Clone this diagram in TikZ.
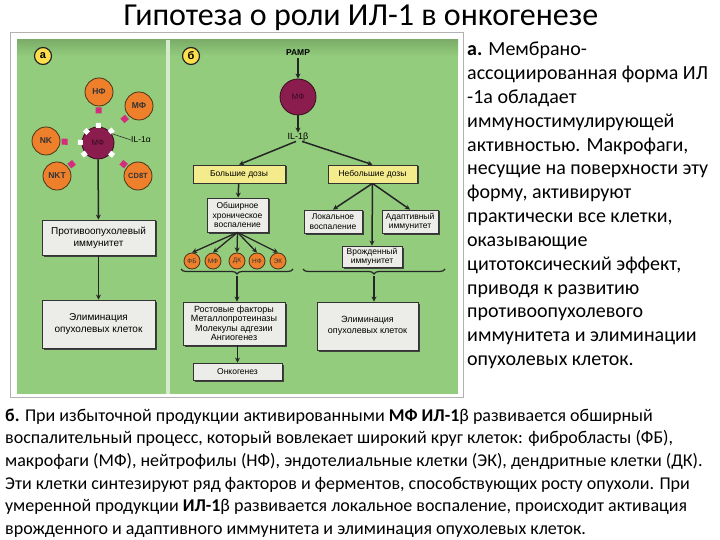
\documentclass[tikz,border=0pt]{standalone}
\usepackage{fontspec}
\setmainfont{Carlito}
\newfontfamily\figfont{Liberation Sans}
\usetikzlibrary{arrows.meta, positioning, decorations.pathreplacing, shadows}

\definecolor{panelgreen}{RGB}{146,204,124}
\definecolor{cellorange}{RGB}{238,128,44}
\definecolor{macro}{RGB}{138,28,78}
\definecolor{linkpink}{RGB}{214,44,124}
\definecolor{boxgray}{RGB}{236,236,232}
\definecolor{doseyellow}{RGB}{244,236,140}

\tikzset{
  plainbox/.style={draw=black!80, fill=boxgray, line width=0.8pt, align=center, inner sep=1pt,
    drop shadow={shadow xshift=1.5pt, shadow yshift=-1.5pt, fill=black!75, opacity=1},
    font=\figfont\fontsize{8.5}{9.5}\selectfont},
  dosebox/.style={plainbox, fill=doseyellow},
  cell/.style={circle, draw=black!60!brown, fill=cellorange, line width=0.8pt, minimum size=28pt,
    inner sep=0pt, font=\figfont\bfseries\fontsize{8.5}{8.5}\selectfont, text=black!80},
  smallcell/.style={cell, minimum size=16pt, font=\figfont\fontsize{6.5}{6.5}\selectfont},
  macrocell/.style={circle, draw=black!60!macro, fill=macro, line width=0.8pt, minimum size=32pt,
    inner sep=0pt, font=\figfont\fontsize{8}{8}\selectfont, text=black!60!macro},
  panellabel/.style={circle, draw=black!85, fill=yellow!70!orange!70, line width=1.2pt, minimum size=17pt,
    inner sep=0pt, font=\figfont\bfseries\fontsize{11}{11}\selectfont},
  arr/.style={-{Stealth[length=5pt,width=5pt]}, line width=1.5pt, black!85},
  knobw/.style={rectangle, fill=white, minimum size=5pt, inner sep=0pt},
  knobp/.style={rectangle, fill=linkpink, minimum size=6pt, inner sep=0pt},
  bracket/.style={decorate, decoration={brace, amplitude=5pt, mirror}, line width=1.2pt, black!85},
  notetext/.style={anchor=base west, inner sep=0pt, font=\fontsize{20}{24}\selectfont},
  bottomtext/.style={anchor=base west, inner sep=0pt, font=\fontsize{18}{22}\selectfont},
}

\begin{document}
\begin{tikzpicture}[x=1pt, y=-1pt]
    \useasboundingbox (0,0) rectangle (720,540);
    \fill[white] (0,0) rectangle (720,540);

    % Title
    \node[anchor=base, inner sep=0pt, font=\fontsize{32}{34}\selectfont] (title) at (361,26)
        {Гипотеза о роли ИЛ-1 в онкогенезе};

    % Frame and panels
    \draw[black!30, fill=white] (10,32) rectangle (463,397);
    \fill[panelgreen] (17,40) rectangle (458,394);
    \shade[top color=panelgreen!85!black, bottom color=panelgreen] (17,40) rectangle (458,56);
    \fill[panelgreen!40!white] (166,40) rectangle (170,394);

    % Panel a
    \node[panellabel] (labA) at (43,56) {а};
    \node[cell] (nf)  at (99,92)   {НФ};
    \node[cell] (mf2) at (139,106) {МФ};
    \node[cell] (nk)  at (46,141)  {NK};
    \node[cell] (nkt) at (57,176)  {NKT};
    \node[cell, font=\figfont\bfseries\fontsize{7.5}{7.5}\selectfont] (cd8) at (138,176) {CD8T};
    \node[macrocell] (mfA) at (98,143) {МФ};
    \foreach \s in {nf, mf2, nk, nkt, cd8}
        \path (mfA) -- (\s) node[knobw, sloped, pos=0.06] {} node[knobp, sloped, pos=0.8] {};
    \node[knobw, rotate=45] at (mfA.135) {};
    \node[anchor=west, inner sep=0pt, font=\figfont\fontsize{8.5}{8.5}\selectfont] (ilA) at (131,140) {IL-1α};
    \draw[black!80, line width=0.6pt] (mfA.35) -- (ilA.west);

    \node[plainbox, minimum width=113pt, minimum height=35pt, font=\figfont\fontsize{10}{12}\selectfont]
        (immun) at (98.5,237.5) {Противоопухолевый\\иммунитет};
    \node[plainbox, minimum width=113pt, minimum height=48pt, font=\figfont\fontsize{10}{12}\selectfont]
        (elimA) at (98.5,324) {Элиминация\\опухолевых клеток};
    \draw[arr] (mfA) -- (immun);
    \draw[arr] (immun) -- (elimA);

    % Panel b
    \node[panellabel] (labB) at (191,56) {б};
    \node[inner sep=0pt, font=\figfont\bfseries\fontsize{8.5}{8.5}\selectfont] (pamp) at (298,53) {PAMP};
    \node[macrocell, minimum size=36pt] (mfB) at (298,97) {МФ};
    \node[inner sep=0pt, font=\figfont\fontsize{9}{9}\selectfont] (ilB) at (298,137) {IL-1β};
    \draw[arr] ([yshift=-2pt]pamp.south) -- (mfB);
    \draw[arr] (mfB) -- (ilB);

    \node[dosebox, minimum width=92pt, minimum height=18pt] (big) at (239,174) {Большие дозы};
    \node[dosebox, minimum width=89pt, minimum height=18pt] (small) at (372.5,174) {Небольшие дозы};
    \draw[arr] ([xshift=-2pt]ilB.south) -- (big.north);
    \draw[arr] ([xshift=4pt]ilB.south) -- (small.north);

    \node[plainbox, minimum width=61pt, minimum height=34pt] (wide) at (237.5,215)
        {Обширное\\хроническое\\воспаление};
    \draw[arr] (big) -- (wide);

    \node[smallcell] (fb)  at (192,261) {ФБ};
    \node[smallcell] (mf3) at (213,261) {МФ};
    \node[smallcell] (dk)  at (237,261) {ДК};
    \node[smallcell] (nf2) at (257,261) {НФ};
    \node[smallcell] (ek)  at (278,261) {ЭК};
    \foreach \c in {fb, mf3, dk, nf2, ek}
        \draw[arr, line width=1.3pt] (wide.south) -- (\c.north);

    \node[plainbox, minimum width=58pt, minimum height=23pt] (local) at (333,221.5) {Локальное\\воспаление};
    \node[plainbox, minimum width=56pt, minimum height=23pt] (adapt) at (410,221.5) {Адаптивный\\иммунитет};
    \node[plainbox, minimum width=60pt, minimum height=21pt] (innate) at (372,256.5) {Врожденный\\иммунитет};
    \draw[arr] (small.south) -- (local.north);
    \draw[arr] (small.south) -- (adapt.north);
    \draw[arr] (small.south) -- (innate.north);

    % Braces
    \coordinate (braceL1) at (181,269);
    \coordinate (braceL2) at (293,269);
    \coordinate (braceR1) at (303,269);
    \coordinate (braceR2) at (445,269);
    \coordinate (tipL) at (237,276);
    \coordinate (tipR) at (374,276);
    \draw[bracket] (braceL1) -- (braceL2);
    \draw[bracket] (braceR1) -- (braceR2);

    \node[plainbox, minimum width=102pt, minimum height=43pt, font=\figfont\fontsize{9}{9.5}\selectfont]
        (growth) at (234,323.5) {Ростовые факторы\\Металлопротеиназы\\Молекулы адгезии\\Ангиогенез};
    \node[plainbox, minimum width=89pt, minimum height=17pt] (onco) at (237.5,371.5) {Онкогенез};
    \node[plainbox, minimum width=101pt, minimum height=48pt, font=\figfont\fontsize{9}{11}\selectfont]
        (elimB) at (367.5,326) {Элиминация\\опухолевых клеток};
    \draw[arr] (tipL) -- (tipL |- growth.north);
    \draw[arr] (tipR) -- (tipR |- elimB.north);
    \draw[arr] (growth.south -| onco) -- (onco.north);

    % Caption a
    \foreach \ln [count=\i] in {{\textbf{а.} Мембрано-}, {ассоциированная форма ИЛ}, {-1а обладает},
        {иммуностимулирующей}, {активностью. Макрофаги,}, {несущие на поверхности эту},
        {форму, активируют}, {практически  все клетки,}, {оказывающие},
        {цитотоксический эффект,}, {приводя к развитию}, {противоопухолевого},
        {иммунитета и элиминации}, {опухолевых клеток.}}
        \node[notetext] (noteA\i) at (467,{56+23.8*(\i-1)}) {\ln};

    % Caption b
    \foreach \ln [count=\i] in {
        {\textbf{б.} При избыточной продукции активированными \textbf{МФ ИЛ-1}β развивается обширный},
        {воспалительный процесс, который вовлекает  широкий круг клеток: фибробласты (ФБ),},
        {макрофаги (МФ), нейтрофилы (НФ), эндотелиальные клетки (ЭК), дендритные клетки (ДК).},
        {Эти клетки синтезируют ряд факторов и ферментов, способствующих росту опухоли. При},
        {умеренной продукции \textbf{ИЛ-1}β развивается локальное воспаление, происходит активация},
        {врожденного и адаптивного иммунитета и элиминация опухолевых клеток.}}
        \node[bottomtext] (noteB\i) at (5,{421+22.7*(\i-1)}) {\ln};
\end{tikzpicture}
\end{document}
